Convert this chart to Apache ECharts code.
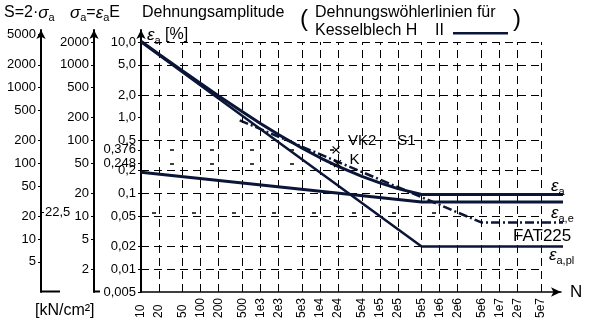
<!DOCTYPE html>
<html><head><meta charset="utf-8">
<script src="https://cdn.jsdelivr.net/npm/echarts@6/dist/echarts.min.js"></script>
<style>html,body{margin:0;padding:0;background:#fff}#c{width:594px;height:323px}</style>
</head><body><div id="c"></div>
<script>
// ---- data ----
const nTicks = [10,20,50,100,200,500,1e3,2e3,5e3,1e4,2e4,5e4,1e5,2e5,5e5,1e6,2e6,5e6,1e7,2e7,5e7];
const nTickLabels = ['10','20','50','100','200','500','1e3','2e3','5e3','1e4','2e4','5e4','1e5','2e5','5e5','1e6','2e6','5e6','1e7','2e7','5e7'];
const epsTicks = [10,5,2,1,0.5,0.376,0.248,0.2,0.1,0.05,0.02,0.01,0.005];
const epsTickLabels = ['10,0','5,0','2,0','1,0','0,5','0,376','0,248','0,2','0,1','0,05','0,02','0,01','0,005'];
const epsGridValues = [10,5,2,0.5,0.2,0.1,0.05,0.02,0.01];
const nGridValues = [20,50,100,200,500,1e3,2e3,5e3,1e4,2e4,5e4,1e5,2e5,5e5,1e6,2e6,5e6,1e7,2e7,5e7];
const sTicks = [5000,2000,1000,500,200,100,50,20,10,5];
const sigmaTicks = [2000,1000,500,200,100,50,20,10,5,2];
const sRefValue = 22.5;
const sRefLabel = '22,5';

const totalN   = [10,20,50,100,200,500,1e3,2e3,5e3,1e4,2e4,5e4,1e5,2e5,5e5,1.26e8];
const totalEps = [10.2,6.9,4.14,2.83,1.94,1.2,0.84,0.6,0.395,0.296,0.228,0.168,0.138,0.116,0.097,0.097];
const elasticN   = [10,5e5,1.26e8];
const elasticEps = [0.19,0.077,0.077];
const plasticN   = [10,5e5,1.26e8];
const plasticEps = [10,0.02,0.02];
const fatN   = [450,5e6,2.5e8];
const fatEps = [0.925,0.0414,0.0414];
const testNames = ['VK2','K'];
const testN   = [1.85e4,1.95e4];
const testEps = [0.376,0.248];
const fatRefEps = 0.05625;   // S = 22,5 kN/cm2
const fatRefEndN = 2e6;

// ---- helpers ----
const INK = '#000';
const LINE = '#0b1538';
const FONT = '"Liberation Sans", Arial, sans-serif';
const pairs = (xs, ys) => xs.map((x, i) => [x, ys[i]]);
const lookup = (vals, labels) => v => {
  const i = vals.findIndex(t => Math.abs(t - v) / t < 1e-6);
  return i >= 0 ? labels[i] : '';
};
const plain = v => String(Math.round(v * 1000) / 1000);
const epsRich = {
  e: {fontSize: 17, fontStyle: 'italic', fontFamily: FONT, lineHeight: 22, color: INK},
  s: {fontSize: 11, fontFamily: FONT, lineHeight: 11, verticalAlign: 'bottom', color: INK},
  t: {fontSize: 16, fontFamily: FONT, lineHeight: 22, color: INK}
};

const gridLines = [];
nGridValues.forEach(n => gridLines.push([{coord: [n, 0.005]}, {coord: [n, 10]}]));
epsGridValues.forEach(e => gridLines.push([{coord: [10, e]}, {coord: [5e7, e]}]));

const chart = echarts.init(document.getElementById('c'), null, {renderer: 'canvas'});
chart.setOption({
  animation: false,
  backgroundColor: '#fff',
  textStyle: {fontFamily: FONT, color: INK},
  grid: {left: 141, right: 33, top: 30, bottom: 31, containLabel: false},
  xAxis: {
    type: 'log', min: 10, max: 1.08e8,
    name: 'N', nameLocation: 'end', nameGap: 9,
    nameTextStyle: {fontSize: 17, color: INK, fontFamily: FONT, verticalAlign: 'middle'},
    axisLine: {show: true, lineStyle: {color: INK, width: 1.5}, symbol: ['none', 'arrow'], symbolSize: [7, 10]},
    axisTick: {show: false},
    splitLine: {show: false}, minorTick: {show: false}, minorSplitLine: {show: false},
    axisLabel: {
      customValues: nTicks, rotate: 90, align: 'left', verticalAlign: 'middle', margin: 26,
      fontSize: 12, color: INK, fontFamily: FONT,
      formatter: lookup(nTicks, nTickLabels)
    }
  },
  yAxis: [
    { // strain amplitude [%]
      type: 'log', min: 0.005, max: 14.4, position: 'left',
      name: '{e|ε}{s|a}{t| [%]}', nameLocation: 'end', nameGap: -16,
      nameTextStyle: {align: 'left', padding: [0, 0, 0, 6], rich: epsRich},
      axisLine: {show: true, lineStyle: {color: INK, width: 2}, symbol: ['none', 'arrow'], symbolSize: [7, 9]},
      axisTick: {show: true, customValues: epsTicks, length: 3, lineStyle: {color: INK}},
      splitLine: {show: false},
      axisLabel: {customValues: epsTicks, margin: 5, fontSize: 13, color: INK, fontFamily: FONT,
        formatter: lookup(epsTicks, epsTickLabels)}
    },
    { // S = 2 sigma_a  [kN/cm2]
      type: 'log', min: 2, max: 5760, position: 'left', offset: 100,
      axisLine: {show: true, lineStyle: {color: INK, width: 2}, symbol: ['none', 'arrow'], symbolSize: [7, 9]},
      axisTick: {show: true, customValues: sTicks, length: 3, lineStyle: {color: INK}},
      splitLine: {show: false},
      axisLabel: {customValues: sTicks, margin: 5, fontSize: 13, color: INK, fontFamily: FONT, formatter: plain}
    },
    { // sigma_a = eps_a * E
      type: 'log', min: 1, max: 2880, position: 'left', offset: 47,
      axisLine: {show: true, lineStyle: {color: INK, width: 2}, symbol: ['none', 'arrow'], symbolSize: [7, 9]},
      axisTick: {show: true, customValues: sigmaTicks, length: 3, lineStyle: {color: INK}},
      splitLine: {show: false},
      axisLabel: {customValues: sigmaTicks, margin: 5, fontSize: 13, color: INK, fontFamily: FONT, formatter: plain}
    },
    { // S axis, inner reference label 22,5
      type: 'log', min: 2, max: 5760, position: 'left', offset: 100,
      axisLine: {show: false},
      axisTick: {show: true, inside: true, customValues: [sRefValue], length: 3, lineStyle: {color: INK}},
      splitLine: {show: false},
      axisLabel: {inside: true, customValues: [sRefValue], margin: 4, fontSize: 13, color: INK, fontFamily: FONT,
        formatter: () => sRefLabel}
    }
  ],
  graphic: [
    {type: 'text', x: 4, y: 3, style: {text: '{t|S=2·}{g|σ}{s|a}', rich: {
      t: {fontSize: 16, fontFamily: FONT, lineHeight: 20, fill: INK},
      g: {fontSize: 17, fontStyle: 'italic', fontFamily: FONT, lineHeight: 20, fill: INK},
      s: {fontSize: 11, fontFamily: FONT, lineHeight: 11, verticalAlign: 'bottom', fill: INK}}}},
    {type: 'text', x: 70, y: 3, style: {text: '{g|σ}{s|a}{t|=}{g|ε}{s|a}{t|E}', rich: {
      t: {fontSize: 16, fontFamily: FONT, lineHeight: 20, fill: INK},
      g: {fontSize: 17, fontStyle: 'italic', fontFamily: FONT, lineHeight: 20, fill: INK},
      s: {fontSize: 11, fontFamily: FONT, lineHeight: 11, verticalAlign: 'bottom', fill: INK}}}},
    {type: 'text', x: 142, y: 5, style: {text: 'Dehnungsamplitude', font: '16px ' + FONT, fill: INK}},
    {type: 'text', x: 300, y: 7, style: {text: '(', font: '24px ' + FONT, fill: INK}},
    {type: 'text', x: 315, y: 5, style: {text: 'Dehnungswöhlerlinien für', font: '16px ' + FONT, fill: INK}},
    {type: 'text', x: 315, y: 23, style: {text: 'Kesselblech H    II', font: '16px ' + FONT, fill: INK}},
    {type: 'rect', shape: {x: 453, y: 32, width: 55, height: 2.5}, style: {fill: LINE}},
    {type: 'text', x: 513, y: 7, style: {text: ')', font: '24px ' + FONT, fill: INK}},
    {type: 'text', x: 35, y: 303, style: {text: '[kN/cm²]', font: '16px ' + FONT, fill: INK}},
    {type: 'line', shape: {x1: 41, y1: 291.5, x2: 60, y2: 291.5}, style: {stroke: INK, lineWidth: 2}},
    {type: 'line', shape: {x1: 94, y1: 291.5, x2: 100, y2: 291.5}, style: {stroke: INK, lineWidth: 2}}
  ],
  series: [
    { // dashed grid
      type: 'line', data: [], silent: true, clip: false,
      markLine: {silent: true, symbol: ['none', 'none'], label: {show: false},
        lineStyle: {color: INK, width: 1, type: [8, 5]}, data: gridLines}
    },
    { // sparse reference lines
      type: 'line', data: [], silent: true, clip: false,
      markLine: {silent: true, symbol: ['none', 'none'], label: {show: false},
        lineStyle: {color: INK, width: 1.6, type: [4, 36], dashOffset: 11},
        data: [
          [{coord: [10, testEps[0]]}, {coord: [testN[0], testEps[0]]}],
          [{coord: [10, testEps[1]]}, {coord: [testN[1], testEps[1]]}],
          [{coord: [10, fatRefEps]}, {coord: [fatRefEndN, fatRefEps], lineStyle: {dashOffset: 29}}]
        ]}
    },
    {
      name: 'εa', type: 'line', data: pairs(totalN, totalEps), showSymbol: false, symbol: 'none', clip: false,
      lineStyle: {color: LINE, width: 3}, z: 5,
      endLabel: {show: true, offset: [-20, -8], formatter: '{e|ε}{s|a}', rich: epsRich}
    },
    {
      name: 'εa,e', type: 'line', data: pairs(elasticN, elasticEps), showSymbol: false, symbol: 'none', clip: false,
      lineStyle: {color: LINE, width: 3}, z: 5,
      endLabel: {show: true, offset: [-20, 11], formatter: '{e|ε}{s|a,e}', rich: epsRich}
    },
    {
      name: 'εa,pl', type: 'line', data: pairs(plasticN, plasticEps), showSymbol: false, symbol: 'none', clip: false,
      lineStyle: {color: LINE, width: 2.5}, z: 5,
      endLabel: {show: true, offset: [-22, 9], formatter: '{e|ε}{s|a,pl}', rich: epsRich}
    },
    {
      name: 'FAT225', type: 'line', data: pairs(fatN, fatEps), showSymbol: false, symbol: 'none', clip: false,
      lineStyle: {color: LINE, width: 2.5, type: [9, 3, 2, 3]}, z: 4,
      endLabel: {show: true, offset: [-58, 14], formatter: 'FAT225', fontSize: 17, color: INK, fontFamily: FONT}
    },
    {
      type: 'scatter', clip: false, z: 6,
      symbol: 'path://M0,0L10,10M10,0L0,10', symbolSize: 7,
      itemStyle: {color: 'none', borderColor: INK, borderWidth: 1.2, opacity: 1},
      data: testNames.map((nm, i) => ({
        name: nm, value: [testN[i], testEps[i]],
        label: {show: true, position: 'right', distance: 6, opacity: 1,
          offset: i === 0 ? [0, -9] : [0, -4],
          formatter: i === 0 ? nm + '     S1' : nm,
          fontSize: 15, color: INK, fontFamily: FONT}
      }))
    }
  ]
});
</script></body></html>
